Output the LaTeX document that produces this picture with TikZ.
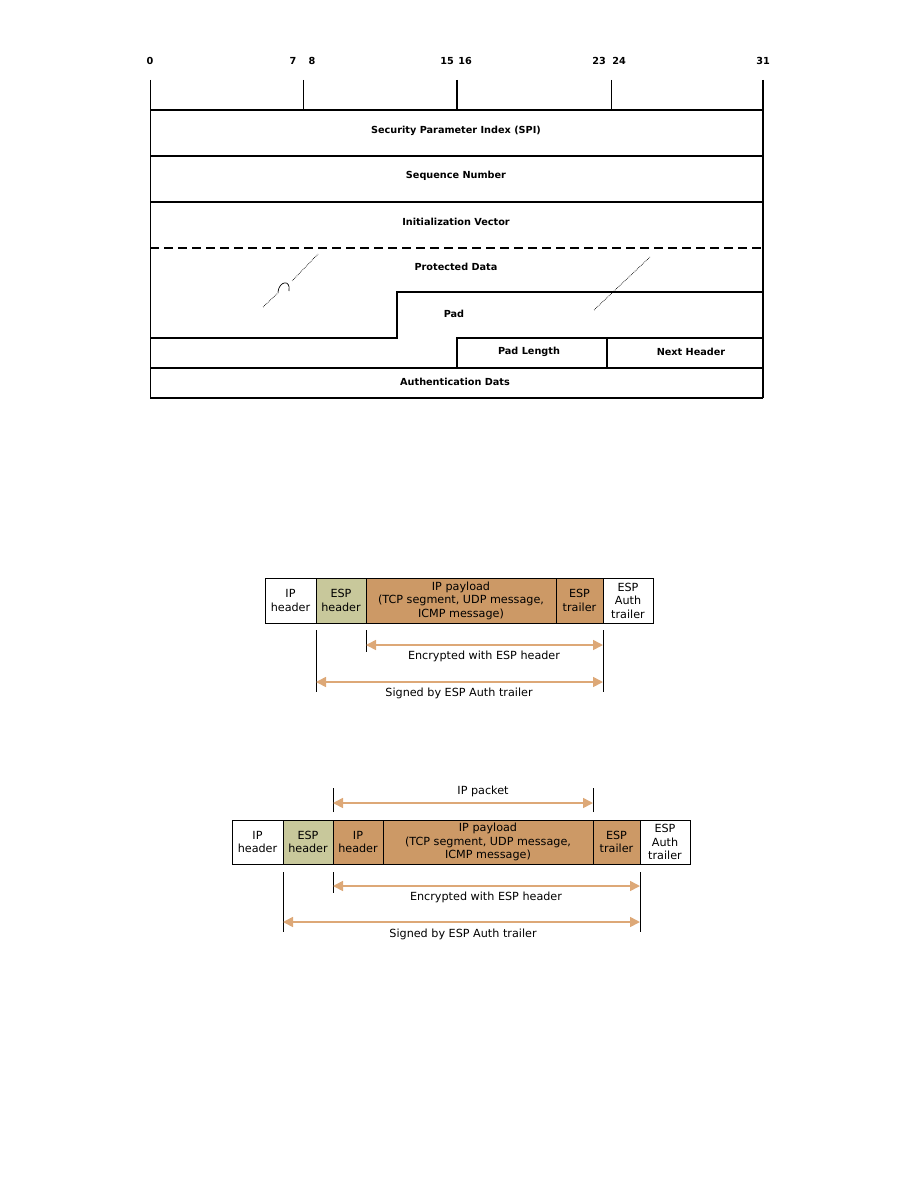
\documentclass[tikz,border=0pt]{standalone}
\usepackage{fontspec}
\setmainfont{DejaVu Sans}
\usetikzlibrary{arrows.meta, positioning}

\definecolor{espolive}{HTML}{C8C89B}
\definecolor{esptan}{HTML}{CC9966}
\definecolor{esparrow}{HTML}{DDA877}

\begin{document}
\begin{tikzpicture}[
    x=1pt, y=-1pt,
    rowtext/.style={font=\bfseries\fontsize{9.7}{11}\selectfont},
    bitnum/.style={font=\bfseries\fontsize{9.7}{11}\selectfont},
    frame/.style={line width=1.5pt},
    cell/.style={draw, line width=0.8pt, minimum height=45pt, inner sep=0pt, outer sep=0pt, align=center, font=\fontsize{11.2}{13.5}\selectfont},
    span/.style={esparrow, line width=1.6pt, {Triangle[length=10pt,width=10pt]}-{Triangle[length=10pt,width=10pt]}},
    guide/.style={line width=0.7pt},
    spantext/.style={font=\fontsize{11.2}{13}\selectfont}
]
    \useasboundingbox (0,0) rectangle (918,1188);

    % ESP packet format
    \node[bitnum] (b0) at (150,61) {0};
    \node[bitnum] (b7) at (293,61) {7};
    \node[bitnum] (b8) at (312,61) {8};
    \node[bitnum] (b15) at (447,61) {15};
    \node[bitnum] (b16) at (465,61) {16};
    \node[bitnum] (b23) at (599,61) {23};
    \node[bitnum] (b24) at (619,61) {24};
    \node[bitnum] (b31) at (763,61) {31};

    \draw[line width=0.7pt] (150,80) -- (150,110);
    \draw[line width=0.7pt] (303,80) -- (303,110);
    \draw[line width=1.5pt] (457,80) -- (457,110);
    \draw[line width=1pt] (611,80) -- (611,110);
    \draw[frame] (763,80) -- (763,398);
    \draw[line width=1pt] (150,110) -- (150,398);
    \foreach \y in {110,156,202,368,398}
        \draw[frame] (150,\y) -- (763,\y);
    \draw[frame, dashed, dash pattern=on 9pt off 5pt] (150,248) -- (763,248);
    \draw[frame] (763,292) -- (397,292) -- (397,338) -- (150,338);
    \draw[frame] (457,368) -- (457,338) -- (763,338);
    \draw[frame] (607,338) -- (607,368);

    \node[rowtext] (spi) at (456,131) {Security Parameter Index (SPI)};
    \node[rowtext] (seq) at (456,176) {Sequence Number};
    \node[rowtext] (iv) at (456,222) {Initialization Vector};
    \node[rowtext] (data) at (456,267) {Protected Data};
    \node[rowtext] (pad) at (454,314) {Pad};
    \node[rowtext] (padlen) at (529,352) {Pad Length};
    \node[rowtext] (next) at (691,352) {Next Header};
    \node[rowtext] (auth) at (455,382) {Authentication Dats};

    % break marks
    \draw[densely dotted, line width=0.7pt] (263,307) -- (279,292);
    \draw[line width=0.7pt] (278,292) .. controls (279,281) and (291,279) .. (289,291);
    \draw[densely dotted, line width=0.7pt] (292,281) -- (318,254);
    \draw[densely dotted, line width=0.7pt] (594,310) -- (650,257);

    % transport mode
    \node[cell, minimum width=51pt] (a1) at (290.5,600.5) {IP\\header};
    \node[cell, fill=espolive, minimum width=50pt, right=0pt of a1] (a2) {ESP\\header};
    \node[cell, fill=esptan, minimum width=190pt, right=0pt of a2] (a3) {IP payload\\(TCP segment, UDP message,\\ICMP message)};
    \node[cell, fill=esptan, minimum width=47pt, right=0pt of a3] (a4) {ESP\\trailer};
    \node[cell, minimum width=50pt, right=0pt of a4] (a5) {ESP\\Auth\\trailer};

    \draw[guide] (a2.south west) ++(0,7) -- ++(0,62);
    \draw[guide] (a3.south west) ++(0,7) -- ++(0,22);
    \draw[guide] (a4.south east) ++(0,7) -- ++(0,62);
    \draw[span] ([yshift=-22pt]a3.south west) -- ([yshift=-22pt]a4.south east);
    \draw[span] ([yshift=-59pt]a2.south west) -- ([yshift=-59pt]a4.south east);
    \node[spantext] (enc1) at (484,656) {Encrypted with ESP header};
    \node[spantext] (sig1) at (459,693) {Signed by ESP Auth trailer};

    % tunnel mode
    \node[cell, minimum width=51pt, minimum height=44pt] (c1) at (257.5,842) {IP\\header};
    \node[cell, fill=espolive, minimum width=50pt, minimum height=44pt, right=0pt of c1] (c2) {ESP\\header};
    \node[cell, fill=esptan, minimum width=50pt, minimum height=44pt, right=0pt of c2] (c3) {IP\\header};
    \node[cell, fill=esptan, minimum width=210pt, minimum height=44pt, right=0pt of c3] (c4) {IP payload\\(TCP segment, UDP message,\\ICMP message)};
    \node[cell, fill=esptan, minimum width=47pt, minimum height=44pt, right=0pt of c4] (c5) {ESP\\trailer};
    \node[cell, minimum width=50pt, minimum height=44pt, right=0pt of c5] (c6) {ESP\\Auth\\trailer};

    \draw[guide] (c3.north west) ++(0,-8) -- ++(0,-24);
    \draw[guide] (c4.north east) ++(0,-8) -- ++(0,-24);
    \draw[span] ([yshift=17pt]c3.north west) -- ([yshift=17pt]c4.north east);
    \node[spantext] (pkt) at (483,791) {IP packet};

    \draw[guide] (c2.south west) ++(0,8) -- ++(0,60);
    \draw[guide] (c3.south west) ++(0,8) -- ++(0,21);
    \draw[guide] (c5.south east) ++(0,8) -- ++(0,60);
    \draw[span] ([yshift=-22pt]c3.south west) -- ([yshift=-22pt]c5.south east);
    \draw[span] ([yshift=-58pt]c2.south west) -- ([yshift=-58pt]c5.south east);
    \node[spantext] (enc2) at (486,897) {Encrypted with ESP header};
    \node[spantext] (sig2) at (463,934) {Signed by ESP Auth trailer};
\end{tikzpicture}
\end{document}
